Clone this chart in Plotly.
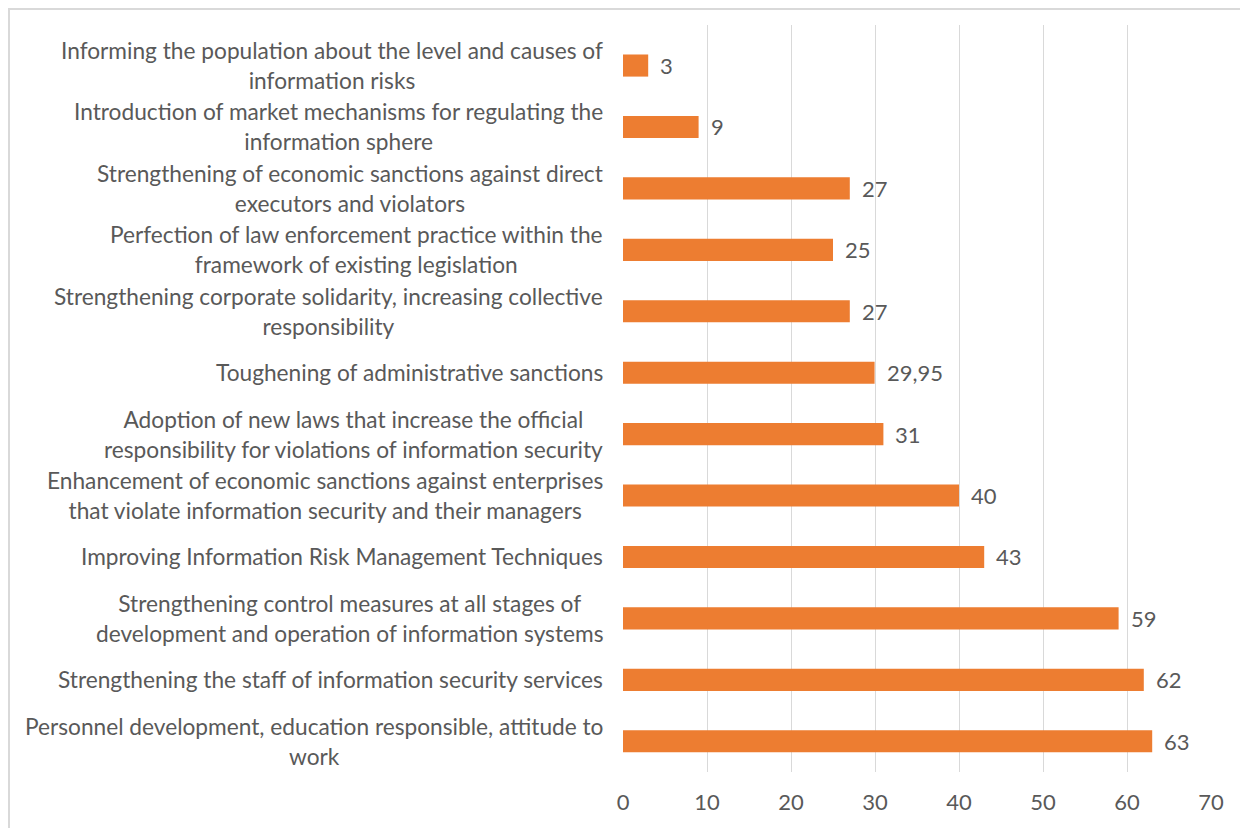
import plotly.graph_objects as go

categories = [
    "Informing the population about the level and causes of<br>information risks",
    "Introduction of market mechanisms for regulating the<br>information sphere",
    "Strengthening of economic sanctions against direct<br>executors and violators",
    "Perfection of law enforcement practice within the<br>framework of existing legislation",
    "Strengthening corporate solidarity, increasing collective<br>responsibility",
    "Toughening of administrative sanctions",
    "Adoption of new laws that increase the official<br>responsibility for violations of information security",
    "Enhancement of economic sanctions against enterprises<br>that violate information security and their managers",
    "Improving Information Risk Management Techniques",
    "Strengthening control measures at all stages of<br>development and operation of information systems",
    "Strengthening the staff of information security services",
    "Personnel development, education responsible, attitude to<br>work",
]
values = [3, 9, 27, 25, 27, 29.95, 31, 40, 43, 59, 62, 63]
value_labels = ["3", "9", "27", "25", "27", "29,95", "31", "40", "43", "59", "62", "63"]
x_ticks = [0, 10, 20, 30, 40, 50, 60, 70]

FONT = "Lato"
GRAY = "#595959"
ORANGE = "#ED7D31"
FS = 22
FS_CAT = 22.7

y_idx = list(range(len(categories)))

fig = go.Figure(
    go.Bar(
        x=values,
        y=y_idx,
        orientation="h",
        marker=dict(color=ORANGE, line=dict(width=0)),
        hoverinfo="skip",
    )
)

annotations = []
for i, (c, v, lab) in enumerate(zip(categories, values, value_labels)):
    annotations.append(dict(
        x=0, xref="paper", y=i, yref="y", text=c, showarrow=False,
        xanchor="right", yanchor="middle", align="center", xshift=-18,
        font=dict(family=FONT, size=FS_CAT, color=GRAY),
    ))
    annotations.append(dict(
        x=v, xref="x", y=i, yref="y", text=lab, showarrow=False,
        xanchor="left", yanchor="middle", xshift=10,
        font=dict(family=FONT, size=FS, color=GRAY),
    ))

# page is offset by 8px body margin
W, H = 1240, 820
L, T = 615, 17
pw, ph = 588, 747
R, B = W - L - pw, H - T - ph

fig.update_layout(
    width=W, height=H,
    margin=dict(l=L, r=R, t=T, b=B),
    paper_bgcolor="white", plot_bgcolor="white",
    bargap=0.64,
    showlegend=False,
    annotations=annotations,
    font=dict(family=FONT, color=GRAY),
    xaxis=dict(
        range=[0, 70], tickvals=x_ticks, showgrid=True, gridcolor="#d9d9d9", gridwidth=1,
        zeroline=False, showline=False, ticks="", ticklabelstandoff=15,
        tickfont=dict(family=FONT, size=FS, color=GRAY),
    ),
    yaxis=dict(
        range=[11.5, -0.66], showticklabels=False, showgrid=False, zeroline=False,
        showline=False, ticks="",
    ),
    shapes=[dict(
        type="rect", xref="paper", yref="paper",
        x0=(1 - L) / pw, x1=(W + 10 - L) / pw,
        y0=(H - B - (H + 10)) / ph, y1=(H - B - 1) / ph,
        line=dict(color="#d9d9d9", width=2), fillcolor="rgba(0,0,0,0)", layer="below",
    )],
)

fig.write_html("out.html")
